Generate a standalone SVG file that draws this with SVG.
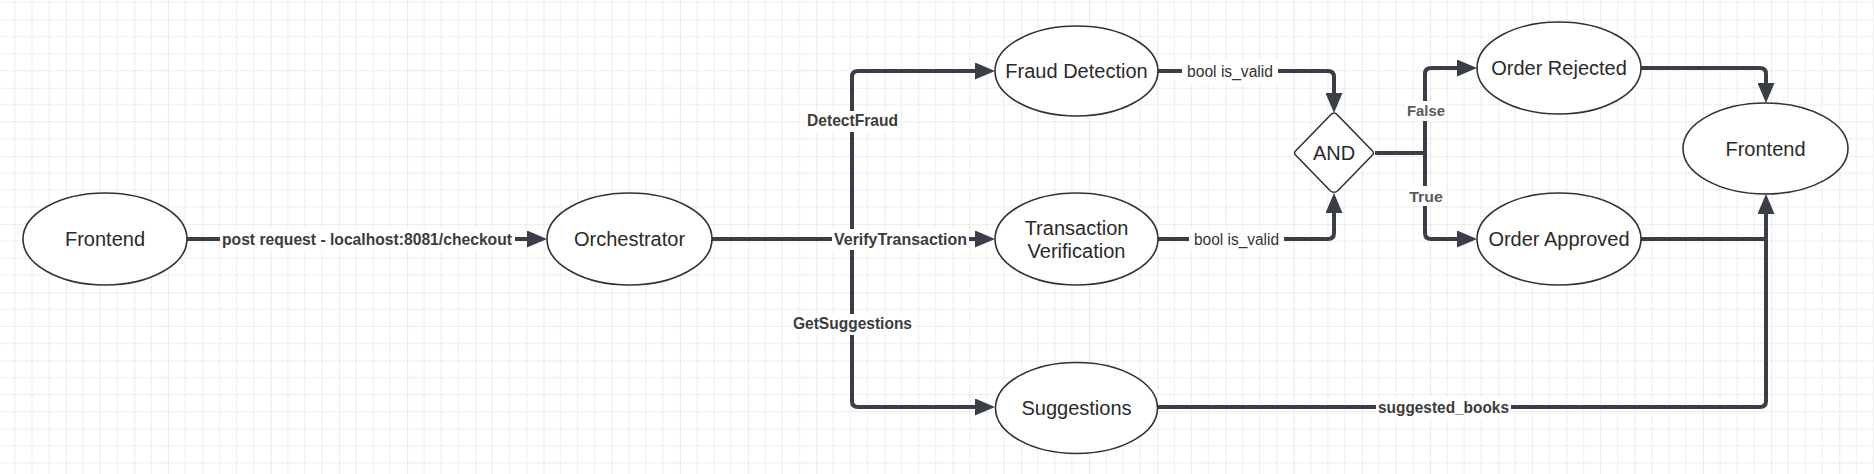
<svg xmlns="http://www.w3.org/2000/svg" width="1874" height="474" viewBox="0 0 1874 474">
  <style>
    .node ellipse, .node path { fill: #ffffff; stroke: #2f3238; stroke-width: 1.6; }
    .ntext { font-family: "Liberation Sans", Arial, sans-serif; font-size: 20px; fill: #2a2a2a; text-anchor: middle; }
    .edge { fill: none; stroke: #3a3e47; stroke-width: 4; stroke-linejoin: round; }
    .arrow { marker-end: url(#ah); }
    .lbl { font-family: "Liberation Sans", Arial, sans-serif; font-size: 16.5px; font-weight: bold; fill: #3c3c3c; text-anchor: middle; }
    .lbl2 { font-family: "Liberation Sans", Arial, sans-serif; font-size: 16px; fill: #333333; text-anchor: middle; }
    .lblg { font-family: "Liberation Sans", Arial, sans-serif; font-size: 15.5px; font-weight: bold; fill: #5a5a5a; text-anchor: middle; }
    .bg { fill: #ffffff; }
  </style>
  <defs>
    <pattern id="grid" patternUnits="userSpaceOnUse" x="66.1" y="19.5" width="68.2" height="68.2">
      <path d="M17.05 0V68.2M34.1 0V68.2M51.15 0V68.2M0 17.05H68.2M0 34.1H68.2M0 51.15H68.2" stroke="#ececec" stroke-width="1" fill="none"/>
      <path d="M0 0V68.2M0 0H68.2" stroke="#dcdcdc" stroke-width="1.2" fill="none"/>
    </pattern>
    <marker id="ah" viewBox="0 0 20 17" refX="10" refY="8.5" markerWidth="20" markerHeight="17" markerUnits="userSpaceOnUse" orient="auto">
      <path d="M0 0L20 8.5L0 17z" fill="#3a3e47"/>
    </marker>
  </defs>
  <rect width="1874" height="474" fill="#ffffff"/>
  <rect width="1874" height="474" fill="url(#grid)"/>

  <g id="connectors">
    <path class="edge arrow" d="M187 239H537"/>
    <path class="edge arrow" d="M712 239H985"/>
    <path class="edge arrow" d="M852 239V77Q852 71 858 71H985"/>
    <path class="edge arrow" d="M852 239V401Q852 407 858 407H985"/>
    <path class="edge arrow" d="M1158 71H1328Q1334 71 1334 77V103"/>
    <path class="edge arrow" d="M1158 239H1328Q1334 239 1334 233V203"/>
    <path class="edge arrow" d="M1375 153H1425V74Q1425 68 1431 68H1467"/>
    <path class="edge arrow" d="M1425 153V233Q1425 239 1431 239H1467"/>
    <path class="edge arrow" d="M1641 68H1760Q1766 68 1766 74V93"/>
    <path class="edge" d="M1641 239H1766"/>
    <path class="edge arrow" d="M1157 407H1760Q1766 407 1766 401V204"/>

    <rect class="bg" x="220" y="229" width="295" height="21"/>
    <text class="lbl" x="367" y="245" textLength="290" lengthAdjust="spacingAndGlyphs">post request - localhost:8081/checkout</text>
    <rect class="bg" x="832" y="229" width="137" height="21"/>
    <text class="lbl" x="900.5" y="245" textLength="133" lengthAdjust="spacingAndGlyphs">VerifyTransaction</text>
    <rect class="bg" x="806" y="111" width="93" height="21"/>
    <text class="lbl" x="852.5" y="126" textLength="91" lengthAdjust="spacingAndGlyphs">DetectFraud</text>
    <rect class="bg" x="791" y="314" width="123" height="21"/>
    <text class="lbl" x="852.5" y="329" textLength="119" lengthAdjust="spacingAndGlyphs">GetSuggestions</text>
    <rect class="bg" x="1182" y="61" width="96" height="21"/>
    <text class="lbl2" x="1230" y="76.5" textLength="86" lengthAdjust="spacingAndGlyphs">bool is_valid</text>
    <rect class="bg" x="1189" y="229" width="95" height="21"/>
    <text class="lbl2" x="1236.5" y="245" textLength="85" lengthAdjust="spacingAndGlyphs">bool is_valid</text>
    <rect class="bg" x="1376" y="397" width="135" height="21"/>
    <text class="lbl" x="1443.5" y="412.5" textLength="131" lengthAdjust="spacingAndGlyphs">suggested_books</text>
    <rect class="bg" x="1405" y="101" width="42" height="20"/>
    <text class="lblg" x="1426" y="116" textLength="38" lengthAdjust="spacingAndGlyphs">False</text>
    <rect class="bg" x="1407" y="186" width="38" height="20"/>
    <text class="lblg" x="1426" y="201.5" textLength="33.5" lengthAdjust="spacingAndGlyphs">True</text>
  </g>

  <g id="frontend-left" class="node">
    <ellipse cx="105" cy="239" rx="82" ry="46"/>
    <text class="ntext" x="105" y="246">Frontend</text>
  </g>
  <g id="orchestrator" class="node">
    <ellipse cx="629.5" cy="239" rx="82.5" ry="46"/>
    <text class="ntext" x="629.5" y="246">Orchestrator</text>
  </g>
  <g id="fraud-detection" class="node">
    <ellipse cx="1076.5" cy="71" rx="81.5" ry="45"/>
    <text class="ntext" x="1076.5" y="78">Fraud Detection</text>
  </g>
  <g id="transaction-verification" class="node">
    <ellipse cx="1076.5" cy="239" rx="81.5" ry="46"/>
    <text class="ntext" x="1076.5" y="235">Transaction</text>
    <text class="ntext" x="1076.5" y="258">Verification</text>
  </g>
  <g id="suggestions" class="node">
    <ellipse cx="1076.5" cy="408" rx="81" ry="45.5"/>
    <text class="ntext" x="1076.5" y="415">Suggestions</text>
  </g>
  <g id="and-gate" class="node">
    <path d="M1334 113Q1336 113 1338 115.5L1372 150.5Q1375 153 1372 155.5L1338 190.5Q1334 194 1330 190.5L1296 155.5Q1293 153 1296 150.5L1330 115.5Q1332 113 1334 113Z"/>
    <text class="ntext" x="1334" y="160">AND</text>
  </g>
  <g id="order-rejected" class="node">
    <ellipse cx="1559" cy="68" rx="82" ry="46"/>
    <text class="ntext" x="1559" y="75">Order Rejected</text>
  </g>
  <g id="order-approved" class="node">
    <ellipse cx="1559" cy="239" rx="82" ry="46"/>
    <text class="ntext" x="1559" y="246">Order Approved</text>
  </g>
  <g id="frontend-right" class="node">
    <ellipse cx="1765.5" cy="148.5" rx="82.5" ry="45.5"/>
    <text class="ntext" x="1765.5" y="155.5">Frontend</text>
  </g>
</svg>
